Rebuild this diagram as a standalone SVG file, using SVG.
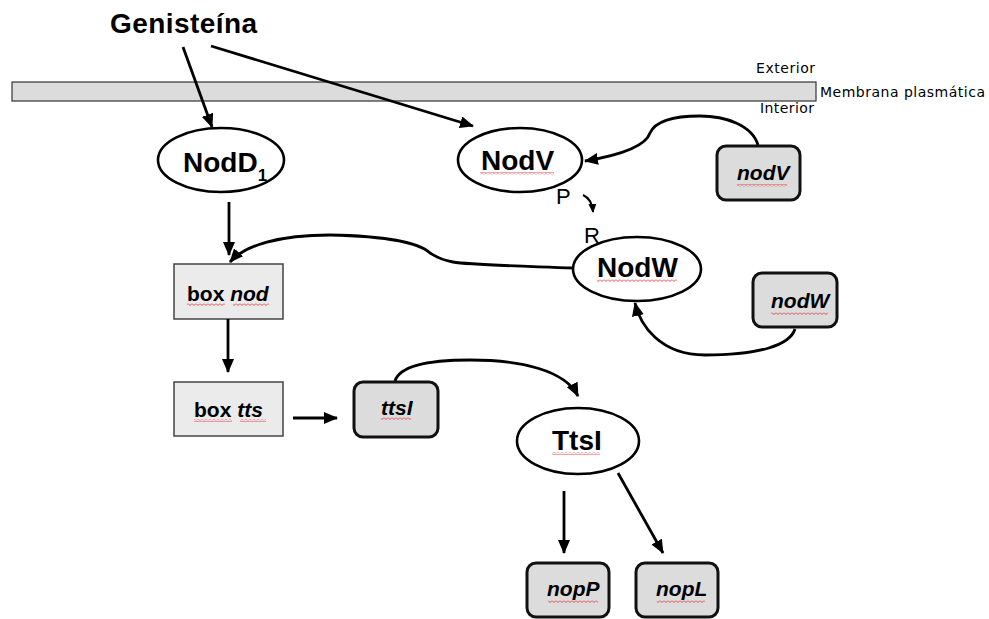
<svg xmlns="http://www.w3.org/2000/svg" width="989" height="619" viewBox="0 0 989 619">
<defs>
<marker id="ah" markerUnits="userSpaceOnUse" viewBox="0 0 14 12" refX="13" refY="6" markerWidth="14" markerHeight="12" orient="auto">
<path d="M0,0 L14,6 L0,12 z" fill="#000"/>
</marker>
<marker id="ahs" markerUnits="userSpaceOnUse" viewBox="0 0 9 8" refX="8" refY="4" markerWidth="9" markerHeight="8" orient="auto">
<path d="M0,0 L9,4 L0,8 z" fill="#000"/>
</marker>
<pattern id="sq" patternUnits="userSpaceOnUse" width="4" height="3">
<path d="M0,0.5 L2,2.5 L4,0.5" fill="none" stroke="#e8323c" stroke-width="0.9"/>
</pattern>
</defs>
<style>
.ell{fill:#fff;stroke:#000;stroke-width:2.6}
.gbox{fill:#dcdcdc;stroke:#111;stroke-width:3}
.pbox{fill:#ebebeb;stroke:#444;stroke-width:1.5}
.big{font-family:"Liberation Sans",Arial,sans-serif;font-weight:bold;font-size:28px;fill:#000}
.sub{font-size:17px}
.lab{font-family:"Liberation Sans",Arial,sans-serif;font-weight:bold;font-size:21px;fill:#000}
.it{font-style:italic}
.thin{font-family:"DejaVu Sans",Verdana,sans-serif;font-size:14px;fill:#000}
.pr{font-family:"Liberation Sans",Arial,sans-serif;font-size:22px;fill:#000}
.con{fill:none;stroke:#000;stroke-width:2.8;marker-end:url(#ah)}
.sq{fill:url(#sq)}
</style>
<rect width="989" height="619" fill="#fff"/>

<g id="membrane">
<rect x="12" y="82" width="804" height="19" fill="#dcdcdc" stroke="#333" stroke-width="1.2"/>
<text class="thin" x="756" y="73" textLength="59">Exterior</text>
<text class="thin" x="820" y="97" textLength="165">Membrana plasmática</text>
<text class="thin" x="760" y="113" textLength="54">Interior</text>
</g>

<g id="genisteina">
<text class="big" x="110" y="33" textLength="147">Genisteína</text>
</g>

<g id="NodD1">
<ellipse class="ell" cx="221" cy="160" rx="63" ry="32"/>
<text class="big" x="183" y="172">NodD<tspan class="sub" dy="9">1</tspan></text>
</g>

<g id="NodV">
<ellipse class="ell" cx="520" cy="160" rx="62" ry="32"/>
<text class="big" x="481" y="170">NodV</text>
<rect class="sq" x="480" y="172" width="74" height="3"/>
</g>

<g id="nodV">
<rect class="gbox" x="717" y="146" width="83" height="54" rx="9"/>
<text class="lab it" x="737" y="180">nodV</text>
<rect class="sq" x="737" y="184" width="50" height="3"/>
</g>

<g id="NodW">
<ellipse class="ell" cx="637" cy="269" rx="64" ry="32"/>
<text class="big" x="597" y="277">NodW</text>
<rect class="sq" x="597" y="279" width="80" height="3"/>
</g>

<g id="nodW">
<rect class="gbox" x="753" y="273" width="84" height="54" rx="9"/>
<text class="lab it" x="771" y="308">nodW</text>
<rect class="sq" x="771" y="312" width="57" height="3"/>
</g>

<g id="boxnod">
<rect class="pbox" x="174" y="264" width="109" height="55"/>
<text class="lab" x="187" y="301">box <tspan class="it">nod</tspan></text>
<rect class="sq" x="187" y="303" width="38" height="3"/>
<rect class="sq" x="233" y="303" width="36" height="3"/>
</g>

<g id="boxtts">
<rect class="pbox" x="174" y="382" width="109" height="54"/>
<text class="lab" x="194" y="417">box <tspan class="it">tts</tspan></text>
<rect class="sq" x="194" y="419" width="38" height="3"/>
<rect class="sq" x="240" y="419" width="26" height="3"/>
</g>

<g id="ttsI">
<rect class="gbox" x="354" y="382" width="84" height="55" rx="9"/>
<text class="lab it" x="381" y="415">ttsI</text>
<rect class="sq" x="381" y="417" width="30" height="3"/>
</g>

<g id="TtsI">
<ellipse class="ell" cx="578" cy="441" rx="61" ry="33" stroke-width="3.5"/>
<text class="big" x="552" y="450">TtsI</text>
<rect class="sq" x="552" y="452" width="48" height="3"/>
</g>

<g id="nopP">
<rect class="gbox" x="527" y="563" width="82" height="54" rx="9"/>
<text class="lab it" x="547" y="596">nopP</text>
<rect class="sq" x="548" y="600" width="50" height="3"/>
</g>

<g id="nopL">
<rect class="gbox" x="636" y="563" width="82" height="54" rx="9"/>
<text class="lab it" x="656" y="596">nopL</text>
<rect class="sq" x="657" y="600" width="48" height="3"/>
</g>

<g id="labels">
<text class="pr" x="556" y="204">P</text>
<text class="pr" x="584" y="243">R</text>
</g>

<g id="connectors">
<path class="con" d="M183,47 L212,127"/>
<path class="con" d="M211,46 L473,126"/>
<path class="con" d="M229,202 L229,255"/>
<path class="con" d="M228,319 L228,372"/>
<path class="con" d="M293,418 L337,418"/>
<path class="con" d="M758,145 C752,125 725,116 700,116 C670,116 655,122 650,133 C645,148 615,156 585,161"/>
<path d="M583,195 Q592,199 593,212" fill="none" stroke="#000" stroke-width="2" marker-end="url(#ahs)"/>
<path class="con" d="M573,268 C520,266 470,265 453,262 C440,260 435,256 430,253 C420,244 390,236 330,235 C280,235 245,245 230,262"/>
<path class="con" d="M795,329 C790,345 760,355 705,355 C660,355 640,325 635,303"/>
<path class="con" d="M395,381 C400,365 430,360 470,360 C520,360 565,370 578,396"/>
<path class="con" d="M564,491 L564,553"/>
<path class="con" d="M618,473 L663,553"/>
</g>
</svg>
